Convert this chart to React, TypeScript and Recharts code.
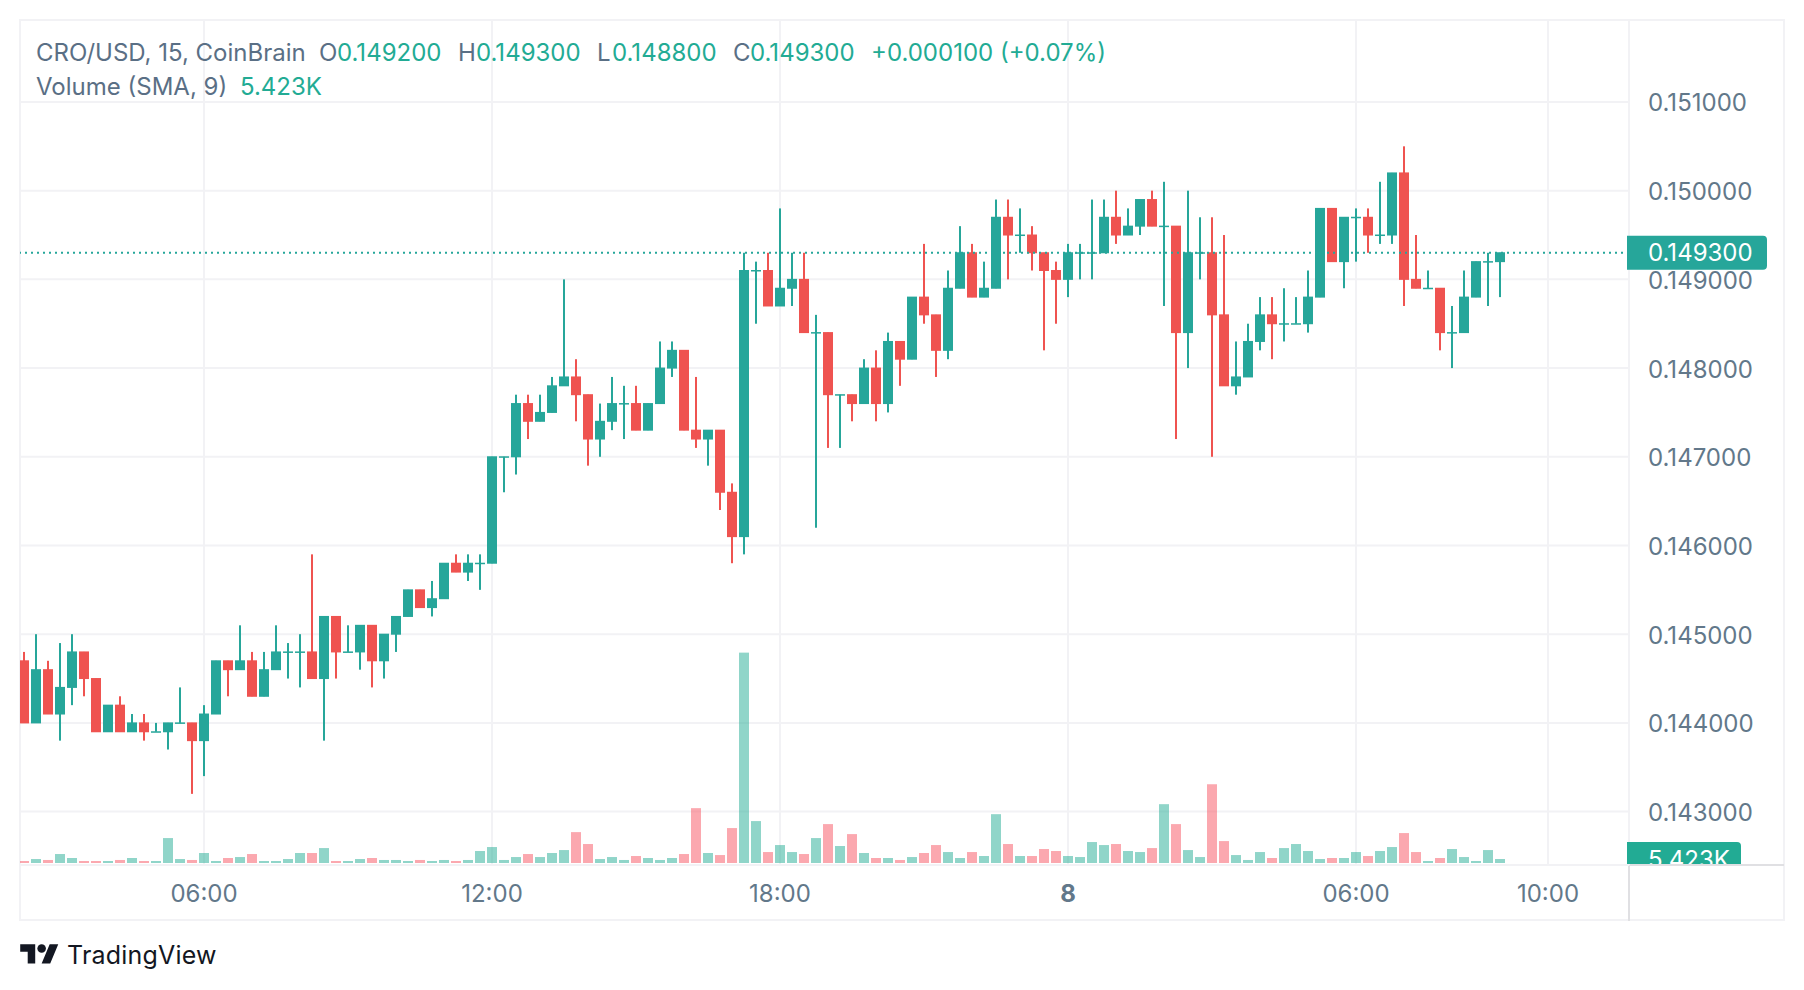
import { Bar, CartesianGrid, ComposedChart, ReferenceLine, XAxis, YAxis } from 'recharts';

const FONT = 'Inter, sans-serif';
const UP = '#26a69a';
const DOWN = '#ef5350';
const VOL_UP = 'rgba(34,171,148,0.5)';
const VOL_DOWN = 'rgba(247,82,95,0.5)';
const LEGEND_GREEN = '#22ab94';
const TEXT = '#5a6f85';
const AXIS_TEXT = '#62788a';
const GRID = '#f2f2f5';
const AXIS_LINE = '#e0e0e3';

// Prices in 0.0001 steps, one entry per 15 minute bar
const opens = [
  1447, 1440, 1446, 1441, 1444, 1448, 1445, 1439, 1442, 1439,
  1440, 1439, 1439, 1440, 1440, 1438, 1441, 1447, 1446, 1447,
  1443, 1446, 1448, 1448, 1448, 1445, 1452, 1448, 1448, 1451,
  1447, 1450, 1452, 1455, 1453, 1454, 1458, 1457, 1458, 1458,
  1470, 1470, 1476, 1474, 1475, 1478, 1479, 1477, 1472, 1474,
  1476, 1476, 1473, 1476, 1480, 1482, 1473, 1472, 1473, 1466,
  1461, 1491, 1491, 1487, 1489, 1490, 1484, 1484, 1477, 1477,
  1476, 1480, 1476, 1483, 1481, 1488, 1486, 1482, 1489, 1493,
  1488, 1489, 1497, 1495, 1495, 1493, 1491, 1490, 1493, 1493,
  1493, 1497, 1495, 1496, 1499, 1496, 1496, 1484, 1493, 1493,
  1486, 1478, 1479, 1483, 1486, 1485, 1485, 1485, 1488, 1498,
  1492, 1497, 1497, 1495, 1495, 1502, 1490, 1489, 1489, 1484,
  1484, 1488, 1492, 1492,
];
const closes = [
  1440, 1446, 1441, 1444, 1448, 1445, 1439, 1442, 1439, 1440,
  1439, 1439, 1440, 1440, 1438, 1441, 1447, 1446, 1447, 1443,
  1446, 1448, 1448, 1448, 1445, 1452, 1448, 1448, 1451, 1447,
  1450, 1452, 1455, 1453, 1454, 1458, 1457, 1458, 1458, 1470,
  1470, 1476, 1474, 1475, 1478, 1479, 1477, 1472, 1474, 1476,
  1476, 1473, 1476, 1480, 1482, 1473, 1472, 1473, 1466, 1461,
  1491, 1491, 1487, 1489, 1490, 1484, 1484, 1477, 1477, 1476,
  1480, 1476, 1483, 1481, 1488, 1486, 1482, 1489, 1493, 1488,
  1489, 1497, 1495, 1495, 1493, 1491, 1490, 1493, 1493, 1493,
  1497, 1495, 1496, 1499, 1496, 1496, 1484, 1493, 1493, 1486,
  1478, 1479, 1483, 1486, 1485, 1485, 1485, 1488, 1498, 1492,
  1497, 1497, 1495, 1495, 1502, 1490, 1489, 1489, 1484, 1484,
  1488, 1492, 1492, 1493,
];
const highs = [
  1448, 1450, 1447, 1449, 1450, 1448, 1445, 1442, 1443, 1441,
  1441, 1440, 1440, 1444, 1440, 1442, 1447, 1447, 1451, 1448,
  1448, 1451, 1449, 1450, 1459, 1452, 1452, 1451, 1451, 1451,
  1450, 1452, 1455, 1455, 1456, 1458, 1459, 1459, 1459, 1470,
  1470, 1477, 1477, 1477, 1479, 1490, 1481, 1477, 1476, 1479,
  1478, 1478, 1476, 1483, 1483, 1482, 1479, 1473, 1473, 1467,
  1493, 1492, 1493, 1498, 1493, 1493, 1486, 1484, 1477, 1477,
  1481, 1482, 1484, 1483, 1488, 1494, 1486, 1491, 1496, 1494,
  1492, 1499, 1499, 1498, 1496, 1493, 1492, 1494, 1494, 1499,
  1499, 1500, 1498, 1499, 1500, 1501, 1496, 1500, 1497, 1497,
  1495, 1483, 1485, 1488, 1488, 1489, 1488, 1491, 1498, 1498,
  1497, 1498, 1498, 1501, 1502, 1505, 1495, 1491, 1489, 1487,
  1491, 1492, 1493, 1493,
];
const lows = [
  1440, 1440, 1441, 1438, 1442, 1443, 1439, 1439, 1439, 1439,
  1438, 1439, 1437, 1440, 1432, 1434, 1441, 1443, 1446, 1443,
  1443, 1446, 1445, 1444, 1445, 1438, 1445, 1448, 1446, 1444,
  1445, 1448, 1452, 1453, 1452, 1454, 1457, 1456, 1455, 1458,
  1466, 1468, 1472, 1474, 1475, 1478, 1474, 1469, 1470, 1473,
  1472, 1473, 1473, 1476, 1479, 1473, 1471, 1469, 1464, 1458,
  1459, 1485, 1487, 1487, 1487, 1484, 1462, 1471, 1471, 1474,
  1476, 1474, 1475, 1478, 1481, 1485, 1479, 1481, 1489, 1488,
  1488, 1489, 1490, 1493, 1491, 1482, 1485, 1488, 1490, 1490,
  1493, 1494, 1495, 1495, 1496, 1487, 1472, 1480, 1490, 1470,
  1478, 1477, 1479, 1482, 1481, 1483, 1485, 1484, 1488, 1492,
  1489, 1492, 1493, 1494, 1494, 1487, 1489, 1489, 1482, 1480,
  1484, 1488, 1487, 1488,
];
// Volume in thousands
const volumes = [
  2.7, 5.4, 4.1, 12.2, 6.8, 2.7, 2.7, 2.7, 4.1, 6.8,
  2.7, 2.7, 33.9, 5.4, 4.1, 13.6, 2.7, 6.8, 8.1, 12.2,
  2.7, 2.7, 5.4, 13.6, 13.6, 20.3, 2.7, 2.7, 5.4, 6.8,
  4.1, 4.1, 2.7, 4.1, 2.7, 4.1, 2.7, 4.1, 16.3, 21.7,
  4.1, 8.1, 12.2, 8.1, 13.6, 17.6, 42, 25.8, 5.4, 8.1,
  4.1, 9.5, 6.8, 4.1, 6.8, 12.2, 74.6, 13.6, 10.8, 47.5,
  286.1, 57, 14.9, 24.4, 14.9, 12.2, 33.9, 52.9, 23.1, 39.3,
  13.6, 6.8, 6.8, 4.1, 8.1, 13.6, 24.4, 14.9, 6.8, 14.9,
  9.5, 66.4, 25.8, 9.5, 9.5, 19, 16.3, 9.5, 8.1, 28.5,
  24.4, 25.8, 16.3, 14.9, 20.3, 80, 52.9, 17.6, 8.1, 107.1,
  29.8, 10.8, 4.1, 14.9, 6.8, 20.3, 25.8, 16.3, 5.4, 6.8,
  6.8, 14.9, 9.5, 16.3, 21.7, 40.7, 14.9, 2.7, 6.8, 19,
  8.1, 2.7, 17.6, 5.423,
];

const priceTicks = [0.143, 0.144, 0.145, 0.146, 0.147, 0.148, 0.149, 0.15, 0.151];
const timeTickBars = [15, 39, 63, 87, 111, 127];
const timeTickLabels = ['06:00', '12:00', '18:00', '8', '06:00', '10:00'];
const lastPrice = 0.1493;
const lastVolume = 5.423;

const legendParts = [
  { text: 'CRO/USD, 15, CoinBrain', x: 36, color: TEXT },
  { text: 'O', x: 319, color: TEXT },
  { text: '0.149200', x: 337, color: LEGEND_GREEN },
  { text: 'H', x: 458, color: TEXT },
  { text: '0.149300', x: 476, color: LEGEND_GREEN },
  { text: 'L', x: 597, color: TEXT },
  { text: '0.148800', x: 612, color: LEGEND_GREEN },
  { text: 'C', x: 733, color: TEXT },
  { text: '0.149300', x: 750, color: LEGEND_GREEN },
  { text: '+0.000100 (+0.07%)', x: 871, color: LEGEND_GREEN },
];
const volumeLegendParts = [
  { text: 'Volume (SMA, 9)', x: 36, color: TEXT },
  { text: '5.423K', x: 240, color: LEGEND_GREEN },
];

const chartData = opens.map((open, i) => ({
  bar: i,
  open: open / 10000,
  close: closes[i] / 10000,
  high: highs[i] / 10000,
  low: lows[i] / 10000,
  range: [lows[i] / 10000, highs[i] / 10000],
  volume: volumes[i],
}));

const Candle = (props: any) => {
  const { x, y, width, height, payload } = props;
  const top = Math.min(y, y + height);
  const pxPerPrice = Math.abs(height) / (payload.high - payload.low || 1);
  const bodyTop = top + (payload.high - Math.max(payload.open, payload.close)) * pxPerPrice;
  const bodyH = Math.abs(payload.open - payload.close) * pxPerPrice;
  const color = payload.close >= payload.open ? UP : DOWN;
  return (
    <g>
      <rect x={x + width / 2 - 1} y={top} width={2} height={Math.abs(height)} fill={color} />
      <rect x={x} y={bodyTop - 0.5} width={width} height={Math.max(bodyH + 1, 1.5)} fill={color} />
    </g>
  );
};

const VolumeBar = (props: any) => {
  const { x, y, width, height, payload } = props;
  return <rect x={x} y={y} width={width} height={height} fill={payload.close >= payload.open ? VOL_UP : VOL_DOWN} />;
};

const TimeTick = (props: any) => {
  const { x, index } = props;
  const label = timeTickLabels[index];
  return (
    <text
      x={x}
      y={893}
      textAnchor="middle"
      dominantBaseline="central"
      fontFamily={FONT}
      fontSize={24}
      fontWeight={label === '8' ? 700 : 400}
      fill={AXIS_TEXT}
    >
      {label}
    </text>
  );
};

const PriceTick = (props: any) => {
  const { y, payload } = props;
  return (
    <text x={1648} y={y + 1} dominantBaseline="central" fontFamily={FONT} fontSize={24} fill={AXIS_TEXT}>
      {payload.value.toFixed(6)}
    </text>
  );
};

const PriceBadge = (props: any) => {
  const { viewBox } = props;
  const x = viewBox.x + viewBox.width - 2;
  const y = viewBox.y;
  return (
    <g>
      <path d={`M${x} ${y - 17}h136a4 4 0 0 1 4 4v26a4 4 0 0 1 -4 4h-136z`} fill={UP} />
      <text x={x + 21} y={y} dominantBaseline="central" fontFamily={FONT} fontSize={24} fill="#ffffff">
        0.149300
      </text>
    </g>
  );
};

// volume badge is cut off by the bottom of the pane
const VolumeBadge = (props: any) => {
  const { viewBox } = props;
  const x = viewBox.x + viewBox.width - 2;
  const y = viewBox.y;
  return (
    <svg x={x} y={y - 17} width={114} height={22} overflow="hidden">
      <path d="M0 0h110a4 4 0 0 1 4 4v30h-114z" fill={LEGEND_GREEN} />
      <text x={21} y={17} dominantBaseline="central" fontFamily={FONT} fontSize={24} fill="#ffffff">
        5.423K
      </text>
    </svg>
  );
};

const line = (left: number, top: number, width: number, height: number, background: string) => (
  <div style={{ position: 'absolute', left, top, width, height, background }} />
);

const legendRow = (parts: { text: string; x: number; color: string }[], top: number) =>
  parts.map((p) => (
    <div
      key={`${p.text}-${p.x}`}
      style={{
        position: 'absolute',
        left: p.x,
        top,
        color: p.color,
        font: `24px ${FONT}`,
        lineHeight: '30px',
        whiteSpace: 'nowrap',
      }}
    >
      {p.text}
    </div>
  ));

export default function App() {
  return (
    <div style={{ position: 'absolute', left: 0, top: 0, width: 1804, height: 990, background: '#fff', overflow: 'hidden' }}>
      {line(19, 19, 1766, 2, GRID)}
      {line(19, 919, 1766, 2, GRID)}
      {line(19, 19, 2, 902, GRID)}
      {line(1783, 19, 2, 902, GRID)}
      {line(1628, 20, 2, 901, AXIS_LINE)}
      {line(20, 864, 1764, 2, AXIS_LINE)}
      <div style={{ position: 'absolute', left: 0, top: 0 }}>
        <ComposedChart width={1804} height={990} data={chartData} margin={{ top: 20, left: 20, right: 20, bottom: 70 }}>
          <CartesianGrid stroke={GRID} strokeWidth={2} />
          <XAxis
            dataKey="bar"
            type="number"
            domain={[-1 / 3, 133.75]}
            ticks={timeTickBars}
            interval={0}
            allowDataOverflow
            height={55}
            axisLine={false}
            tickLine={false}
            tick={<TimeTick />}
          />
          <XAxis xAxisId="vol" dataKey="bar" type="number" domain={[-1 / 3, 133.75]} allowDataOverflow hide />
          <YAxis
            orientation="right"
            width={155}
            domain={[0.142398, 0.151924]}
            ticks={priceTicks}
            interval={0}
            allowDataOverflow
            axisLine={false}
            tickLine={false}
            tick={<PriceTick />}
          />
          <YAxis yAxisId="vol" orientation="left" width={0} hide domain={[-2.72, 1146.48]} allowDataOverflow />
          <ReferenceLine
            y={lastPrice}
            stroke={UP}
            strokeWidth={2}
            strokeDasharray="2 4"
            label={(p: any) => <PriceBadge {...p} />}
          />
          <ReferenceLine
            y={lastVolume}
            yAxisId="vol"
            xAxisId="vol"
            stroke="none"
            label={(p: any) => <VolumeBadge {...p} />}
          />
          <Bar
            xAxisId="vol"
            yAxisId="vol"
            dataKey="volume"
            barSize={10}
            shape={<VolumeBar />}
            isAnimationActive={false}
          />
          <Bar dataKey="range" barSize={10} shape={<Candle />} isAnimationActive={false} />
        </ComposedChart>
      </div>
      {legendRow(legendParts, 38)}
      {legendRow(volumeLegendParts, 72)}
      <svg style={{ position: 'absolute', left: 20, top: 940 }} width={39} height={30} viewBox="0 0 36 28" fill="#131722">
        <path d="M14 22H7V11H0V4h14v18zM28 22h-8l7.5-18h8L28 22z" />
        <circle cx="20" cy="8" r="4" />
      </svg>
      <div
        style={{
          position: 'absolute',
          left: 67,
          top: 939,
          color: '#131722',
          font: `25px ${FONT}`,
          lineHeight: '32px',
          letterSpacing: 0.2,
          whiteSpace: 'nowrap',
        }}
      >
        TradingView
      </div>
    </div>
  );
}
